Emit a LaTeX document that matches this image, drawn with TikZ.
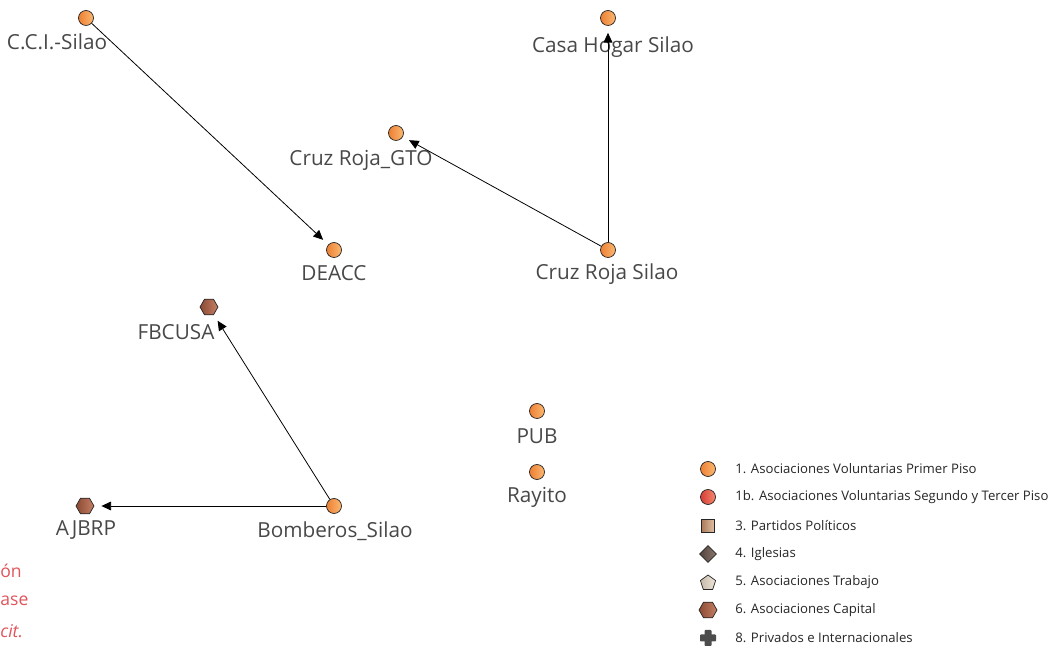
\documentclass[tikz,border=0pt]{standalone}
\usepackage{fontspec}
\setmainfont{Open Sans}
\usetikzlibrary{shapes.geometric,arrows.meta,calc}

\definecolor{volL}{RGB}{236,128,52}
\definecolor{volR}{RGB}{252,184,112}
\definecolor{capL}{RGB}{140,74,52}
\definecolor{capR}{RGB}{196,128,100}
\definecolor{redL}{RGB}{214,62,54}
\definecolor{redR}{RGB}{246,136,110}
\definecolor{txtgray}{RGB}{72,72,72}
\definecolor{citered}{RGB}{224,84,92}

\tikzset{
  vol/.style={circle, draw=black!85, line width=0.4pt, inner sep=0pt,
    minimum size=0.3cm, left color=volL, right color=volR},
  capital/.style={regular polygon, regular polygon sides=6, draw=black!85,
    line width=0.4pt, inner sep=0pt, minimum size=0.36cm,
    left color=capL, right color=capR},
  lab/.style={text=txtgray, font=\fontsize{11.8}{13}\selectfont, inner sep=0pt},
  legtxt/.style={anchor=west, text=black!85, font=\fontsize{7.5}{9}\selectfont, inner sep=0pt},
  cite/.style={anchor=west, text=citered, font=\fontsize{10}{12}\selectfont, inner sep=0pt},
  tie/.style={-{Triangle[length=5.5pt,width=5pt]}, line width=0.45pt, shorten >=4pt}
}

\begin{document}
\begin{tikzpicture}[x=0.02cm,y=-0.02cm]
  \useasboundingbox (0,0) rectangle (1062,651);

  % actores
  \node[vol] (cci) at (86,18) {};
  \node[vol] (casa) at (608,18) {};
  \node[vol] (gto) at (396,133) {};
  \node[vol] (deacc) at (334,250) {};
  \node[vol] (crsilao) at (608,250) {};
  \node[capital] (fbcusa) at (209,307) {};
  \node[capital] (ajbrp) at (85,506) {};
  \node[vol] (bomb) at (334,506) {};
  \node[vol] (pub) at (537,411) {};
  \node[vol] (rayito) at (537,472) {};

  % nombres
  \node[lab] (cci-l) at (57,42) {C.C.I.-Silao};
  \node[lab] (casa-l) at (613,47) {Casa Hogar Silao};
  \node[lab] (gto-l) at (361,160) {Cruz Roja\_GTO};
  \node[lab] (deacc-l) at (334,273) {DEACC};
  \node[lab] (crsilao-l) at (607,274) {Cruz Roja Silao};
  \node[lab] (fbcusa-l) at (176,332) {FBCUSA};
  \node[lab] (ajbrp-l) at (86,530) {AJBRP};
  \node[lab] (bomb-l) at (335,531) {Bomberos\_Silao};
  \node[lab] (pub-l) at (537,436) {PUB};
  \node[lab] (rayito-l) at (537,497) {Rayito};

  % vinculos
  \draw[tie] (cci) -- (deacc);
  \draw[tie] (crsilao) -- (gto);
  \draw[tie] (crsilao) -- (casa);
  \draw[tie] (bomb) -- (fbcusa);
  \draw[tie] (bomb) -- (ajbrp);

  % leyenda
  \node[vol] (k1) at (708,469) {};
  \node[circle, draw=black!85, line width=0.4pt, inner sep=0pt, minimum size=0.3cm,
    left color=redL, right color=redR] (k2) at (708,497) {};
  \node[rectangle, draw=black!85, line width=0.4pt, inner sep=0pt, minimum size=0.27cm,
    left color={rgb,255:red,170;green,120;blue,90}, right color={rgb,255:red,226;green,196;blue,166}] (k3) at (708,526) {};
  \node[diamond, draw=black!85, line width=0.4pt, inner sep=0pt, minimum size=0.34cm,
    left color={rgb,255:red,80;green,66;blue,60}, right color={rgb,255:red,140;green,120;blue,110}] (k4) at (708,554) {};
  \node[regular polygon, regular polygon sides=5, draw=black!85, line width=0.4pt, inner sep=0pt,
    minimum size=0.32cm, left color={rgb,255:red,200;green,186;blue,168}, right color={rgb,255:red,238;green,230;blue,218}] (k5) at (708,583) {};
  \node[capital] (k6) at (708,610) {};
  \coordinate (k7) at (708,638);
  \fill[black!70, rounded corners=0.5pt] ($(k7)+(-3.5,-8)$) rectangle ($(k7)+(3.5,8)$);
  \fill[black!70, rounded corners=0.5pt] ($(k7)+(-8,-3.5)$) rectangle ($(k7)+(8,3.5)$);

  \node[legtxt] (t1) at (735,469) {1. Asociaciones Voluntarias Primer Piso};
  \node[legtxt] (t2) at (735,497) {1b. Asociaciones Voluntarias Segundo y Tercer Piso};
  \node[legtxt] (t3) at (735,526) {3. Partidos Políticos};
  \node[legtxt] (t4) at (735,554) {4. Iglesias};
  \node[legtxt] (t5) at (735,582) {5. Asociaciones Trabajo};
  \node[legtxt] (t6) at (735,610) {6. Asociaciones Capital};
  \node[legtxt] (t7) at (735,638) {8. Privados e Internacionales};

  % texto en el margen izquierdo
  \node[cite] (c1) at (0,571) {ón};
  \node[cite] (c2) at (0,601) {ase};
  \node[cite, font=\fontsize{10}{12}\itshape] (c3) at (0,631) {cit.};
\end{tikzpicture}
\end{document}
